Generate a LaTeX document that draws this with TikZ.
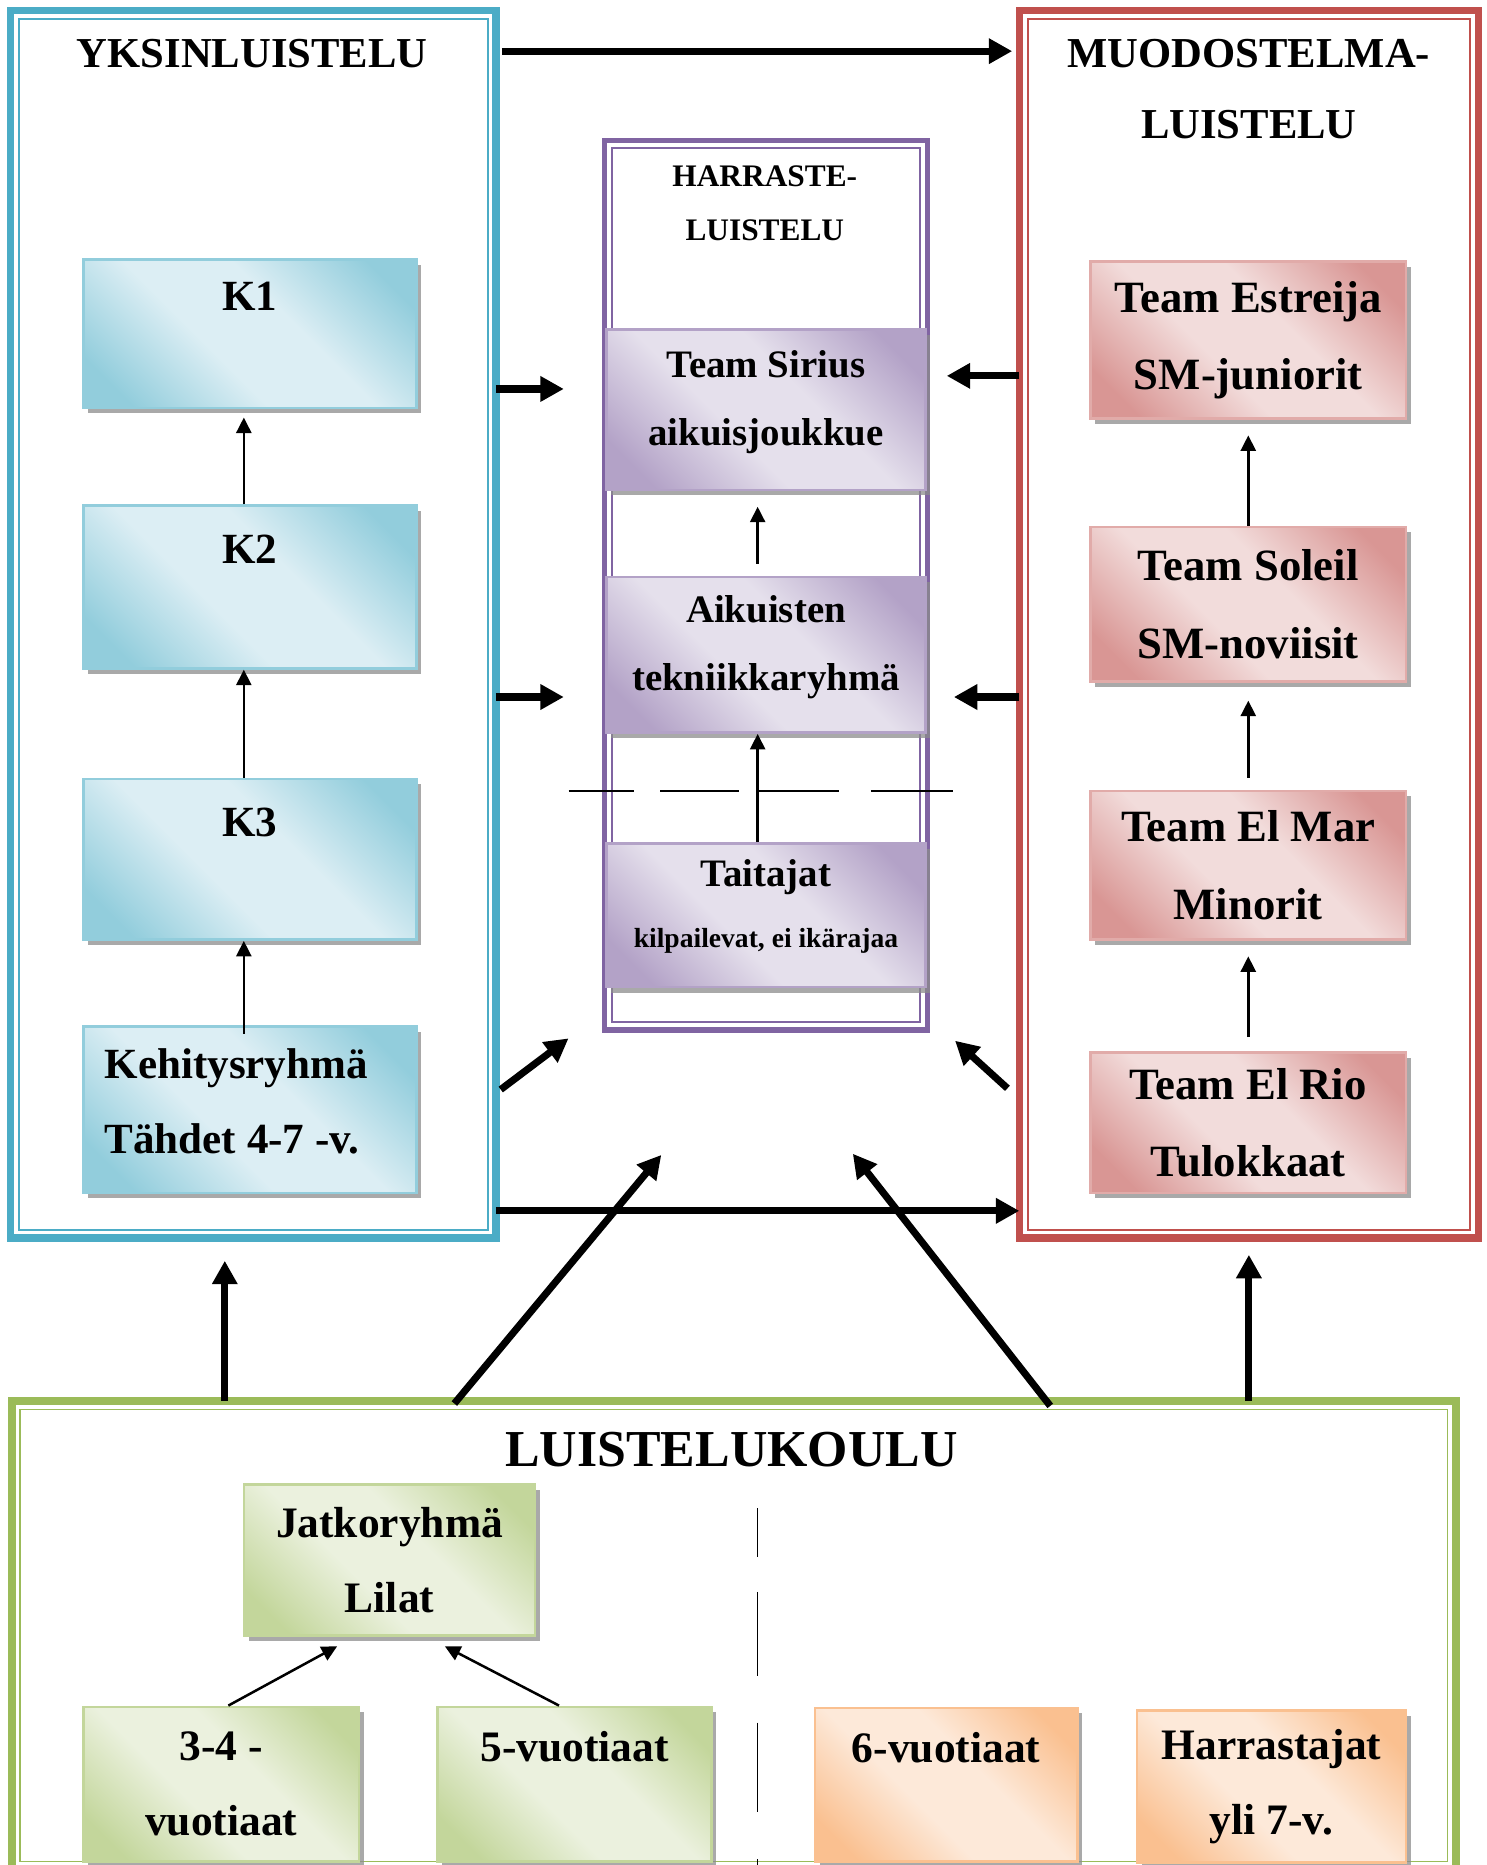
\documentclass[tikz,border=0pt]{standalone}
\usepackage{fontspec}
\setmainfont{Liberation Serif}
\usetikzlibrary{arrows.meta,shadows}

\definecolor{bframe}{HTML}{4BACC6}
\definecolor{bdark}{HTML}{92CDDC}
\definecolor{blight}{HTML}{DCEEF4}
\definecolor{rframe}{HTML}{C0504D}
\definecolor{rdark}{HTML}{D99694}
\definecolor{rlight}{HTML}{F2DCDB}
\definecolor{pframe}{HTML}{8064A2}
\definecolor{pdark}{HTML}{B3A2C7}
\definecolor{plight}{HTML}{E5E0EC}
\definecolor{gframe}{HTML}{9BBB59}
\definecolor{gdark}{HTML}{C3D69B}
\definecolor{glight}{HTML}{EBF1DE}
\definecolor{odark}{HTML}{FAC090}
\definecolor{olight}{HTML}{FDE9D9}

\pgfdeclareverticalshading{bshade}{100bp}{color(0bp)=(bdark); color(22bp)=(bdark); color(42bp)=(blight); color(58bp)=(blight); color(78bp)=(bdark); color(100bp)=(bdark)}
\pgfdeclareverticalshading{rshade}{100bp}{color(0bp)=(rdark); color(22bp)=(rdark); color(42bp)=(rlight); color(58bp)=(rlight); color(78bp)=(rdark); color(100bp)=(rdark)}
\pgfdeclareverticalshading{pshade}{100bp}{color(0bp)=(pdark); color(22bp)=(pdark); color(42bp)=(plight); color(58bp)=(plight); color(78bp)=(pdark); color(100bp)=(pdark)}
\pgfdeclareverticalshading{gshade}{100bp}{color(0bp)=(gdark); color(22bp)=(gdark); color(42bp)=(glight); color(58bp)=(glight); color(78bp)=(gdark); color(100bp)=(gdark)}
\pgfdeclareverticalshading{oshade}{100bp}{color(0bp)=(odark); color(22bp)=(odark); color(42bp)=(olight); color(58bp)=(olight); color(78bp)=(odark); color(100bp)=(odark)}

\begin{document}
\begin{tikzpicture}[x=0.1mm, y=-0.1mm,
        grpframe/.style={draw, line width=1.8pt, outer sep=0pt},
        innerframe/.style={line width=0.45pt},
        grptitle/.style={align=center, inner sep=0pt, font=\fontsize{10.2}{17}\selectfont\bfseries},
        box/.style={align=center, inner sep=0pt, line width=0.6pt, shading angle=-45,
                drop shadow={shadow xshift=0.4mm, shadow yshift=-0.45mm, fill=black!45, opacity=0.75}},
        bluebox/.style={box, draw=bdark, shading=bshade, minimum width=28mm, font=\fontsize{10.3}{18}\selectfont\bfseries},
        purplebox/.style={box, draw=pdark, shading=pshade, minimum width=26.8mm, text depth=5.5pt, font=\fontsize{9.3}{16.2}\selectfont\bfseries},
        redbox/.style={box, draw=rdark!80, shading=rshade, minimum width=26.5mm, font=\fontsize{10.7}{18.5}\selectfont\bfseries},
        greenbox/.style={box, draw=gdark, shading=gshade, font=\fontsize{10.4}{18}\selectfont\bfseries},
        orangebox/.style={box, draw=odark, shading=oshade, font=\fontsize{10.4}{18}\selectfont\bfseries},
        bigarr/.style={line width=1.7pt, -{Triangle[length=5.6pt,width=5.8pt]}},
        smallarr/.style={line width=0.6pt, -{Triangle[length=3.7pt,width=3.6pt]}},
        dashline/.style={line width=0.4pt}]
        \useasboundingbox (0,0) rectangle (1250,1568);

        % ryhmien kehykset
        \node (yk) [grpframe, draw=bframe, minimum width=40.8mm, minimum height=103.2mm] at (213,525) {};
        \draw[innerframe, bframe] ([shift={(7,7)}]yk.north west) rectangle ([shift={(-7,-7)}]yk.south east);
        \node (muod) [grpframe, draw=rframe, minimum width=38.6mm, minimum height=103.2mm] at (1050,525) {};
        \draw[innerframe, rframe] ([shift={(7,7)}]muod.north west) rectangle ([shift={(-7,-7)}]muod.south east);
        \node (harr) [grpframe, draw=pframe, line width=1.3pt, minimum width=27.2mm, minimum height=74.8mm] at (644,492) {};
        \draw[innerframe, pframe] ([shift={(6.5,6.5)}]harr.north west) rectangle ([shift={(-6.5,-6.5)}]harr.south east);
        \node (koulu) [grpframe, draw=gframe, minimum width=121.4mm, minimum height=39.4mm] at (617,1375) {};
        \draw[innerframe, gframe] ([shift={(7,7)}]koulu.north west) rectangle ([shift={(-7,-7)}]koulu.south east);

        \node (yktitle) [grptitle] at (212,45) {YKSINLUISTELU};
        \node (muodtitle) [grptitle] at (1050,75) {MUODOSTELMA-\\LUISTELU};
        \node (harrtitle) [grptitle, font=\fontsize{7.5}{13}\selectfont\bfseries] at (643,171) {HARRASTE-\\LUISTELU};
        \node (koulutitle) [grptitle, font=\fontsize{12.4}{15}\selectfont\bfseries] at (615,1219) {LUISTELUKOULU};

        % yksinluistelu
        \node (k1) [bluebox, minimum height=12.5mm] at (210,280.5) {K1\\~};
        \node (k2) [bluebox, minimum height=13.7mm] at (210,493.5) {K2\\~};
        \node (k3) [bluebox, minimum height=13.5mm] at (210,722.5) {K3\\~};
        \node (keh) [bluebox, minimum height=14mm, text width=24.4mm, align=flush left, text depth=22pt] at (210,933) {Kehitysryhmä\\Tähdet 4-7 -v.};

        % harrasteluistelu
        \node (sirius) [purplebox, minimum height=13.5mm] at (644,344.5) {Team Sirius\\aikuisjoukkue};
        \node (aik) [purplebox, minimum height=13.1mm] at (644,550.5) {Aikuisten\\tekniikkaryhmä};
        \node (tait) [purplebox, minimum height=12.1mm] at (644,769.5) {Taitajat\\[-1.7pt]{\fontsize{6.6}{8}\selectfont kilpailevat, ei ikärajaa}};

        % muodostelmaluistelu
        \node (estreija) [redbox, minimum height=13.2mm] at (1049.5,286) {Team Estreija\\SM-juniorit};
        \node (soleil) [redbox, minimum height=13mm] at (1049.5,508) {Team Soleil\\SM-noviisit};
        \node (elmar) [redbox, minimum height=12.5mm] at (1049.5,727.5) {Team El Mar\\Minorit};
        \node (elrio) [redbox, minimum height=11.8mm] at (1049.5,944) {Team El Rio\\Tulokkaat};

        % luistelukoulu
        \node (jatko) [greenbox, minimum width=24.5mm, minimum height=12.7mm] at (327.5,1311.5) {Jatkoryhmä\\Lilat};
        \node (v34) [greenbox, minimum width=23.2mm, minimum height=13mm] at (186,1500) {3-4 -\\vuotiaat};
        \node (v5) [greenbox, minimum width=23mm, minimum height=13mm] at (483,1500) {5-vuotiaat\\~};
        \node (v6) [orangebox, minimum width=22.1mm, minimum height=12.9mm] at (795.5,1500.5) {6-vuotiaat\\~};
        \node (yli7) [orangebox, minimum width=22.6mm, minimum height=12.8mm] at (1069,1502) {Harrastajat\\yli 7-v.};

        % ryhmien sisaiset nuolet
        \draw[smallarr] ([xshift=-0.5mm]k2.north) -- ([xshift=-0.5mm, yshift=-0.7mm]k1.south);
        \draw[smallarr] ([xshift=-0.5mm]k3.north) -- ([xshift=-0.5mm]k2.south);
        \draw[smallarr] ([xshift=-0.5mm, yshift=-0.7mm]keh.north) -- ([xshift=-0.5mm]k3.south);
        \draw[smallarr] ([xshift=-0.7mm, yshift=1mm]aik.north) -- ([xshift=-0.7mm, yshift=-1.3mm]sirius.south);
        \draw[smallarr] ([xshift=-0.7mm]tait.north) -- ([xshift=-0.7mm]aik.south);
        \draw[smallarr] (soleil.north) -- ([yshift=-1.3mm]estreija.south);
        \draw[smallarr] ([yshift=1mm]elmar.north) -- ([yshift=-1.5mm]soleil.south);
        \draw[smallarr] ([yshift=1.2mm]elrio.north) -- ([yshift=-1.3mm]elmar.south);
        \draw[smallarr] ([xshift=0.6mm]v34.north) -- ([shift={(-44,8)}]jatko.south);
        \draw[smallarr] ([xshift=-1.3mm]v5.north) -- ([shift={(46.5,8)}]jatko.south);

        % ryhmien valiset nuolet
        \coordinate (a1) at (851,43);
        \coordinate (a2) at (474,327);
        \coordinate (a3) at (474,586);
        \coordinate (a4) at (796,316);
        \coordinate (a5) at (802,586);
        \coordinate (a6s) at (421,916);
        \coordinate (a6) at (478,873);
        \coordinate (a7s) at (847,915);
        \coordinate (a7) at (803,875);
        \coordinate (a8) at (600,1018);
        \coordinate (a9) at (189,1060);
        \coordinate (a10s) at (382,1180);
        \coordinate (a10) at (556,971);
        \coordinate (a11s) at (883,1182);
        \coordinate (a11) at (717,970);
        \draw[bigarr] ([xshift=0.5mm]yk.east |- a1) -- (a1);
        \draw[bigarr] (yk.east |- a2) -- (a2);
        \draw[bigarr] (yk.east |- a3) -- (a3);
        \draw[bigarr] (muod.west |- a4) -- (a4);
        \draw[bigarr] (muod.west |- a5) -- (a5);
        \draw[bigarr] (a6s) -- (a6);
        \draw[bigarr] (a7s) -- (a7);
        \draw[bigarr] (yk.east |- a8) -- (muod.west |- a8);
        \draw[bigarr] (koulu.north -| a9) -- (a9);
        \draw[bigarr] (a10s) -- (a10);
        \draw[bigarr] (a11s) -- (a11);
        \draw[bigarr] (koulu.north -| muod.south) -- ([yshift=-1.4mm]muod.south);

        % katkoviivat
        \draw[dashline, dash pattern=on 15.6pt off 6.3pt on 18.8pt off 4.6pt on 19.3pt off 7.7pt on 19.6pt off 5pt] (478,665) -- (801,665);
        \draw[dashline, dash pattern=on 11.7pt off 8.3pt on 20.2pt off 11.1pt on 21.3pt off 11.4pt on 22pt off 5pt] (637,1268) -- (637,1580);
\end{tikzpicture}
\end{document}
